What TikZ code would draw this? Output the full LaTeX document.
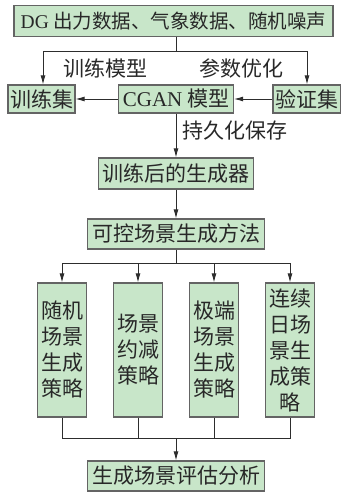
\documentclass[tikz,border=0pt]{standalone}
\usepackage{fontspec}
\setmainfont{Liberation Serif}
\newfontfamily\cjk{Noto Sans CJK SC}
\usetikzlibrary{arrows.meta,calc}
\definecolor{boxfill}{RGB}{200,230,201}
\definecolor{boxline}{RGB}{100,100,100}
\definecolor{connc}{RGB}{45,45,45}
\definecolor{txt}{RGB}{40,40,40}
\begin{document}
\begin{tikzpicture}[x=1pt,y=-1pt,
 box/.style={draw=boxline,fill=boxfill,line width=1.2pt,inner sep=0pt,text=txt,font=\cjk\fontsize{21}{26}\selectfont,align=center},
 conn/.style={draw=connc,line width=0.9pt},
 arr/.style={conn,-{Latex[length=9pt,width=5pt]}},
 lbl/.style={text=txt,font=\cjk\fontsize{21}{24}\selectfont,inner sep=0pt}]
\useasboundingbox (0,0) rectangle (340,492);
\node[box,font=\cjk\fontsize{19.5}{24}\selectfont,minimum width=319pt,minimum height=31pt] (src) at (173.5,21) {{\rmfamily DG} 出力数据、气象数据、随机噪声};
\node[box,minimum width=67pt,minimum height=28pt] (train) at (41.5,99) {训练集};
\node[box,minimum width=115pt,minimum height=28pt] (cgan) at (176,99) {{\rmfamily CGAN} 模型};
\node[box,minimum width=68pt,minimum height=28pt] (valid) at (307,99) {验证集};
\node[box,minimum width=155pt,minimum height=31pt] (gen) at (176,173.5) {训练后的生成器};
\node[box,minimum width=177pt,minimum height=30pt] (method) at (176,234) {可控场景生成方法};
\node[box,minimum width=49pt,minimum height=134pt] (s1) at (62,350) {随机\\场景\\生成\\策略};
\node[box,minimum width=49pt,minimum height=134pt] (s2) at (138,350) {场景\\约减\\策略};
\node[box,minimum width=49pt,minimum height=134pt] (s3) at (214,350) {极端\\场景\\生成\\策略};
\node[box,minimum width=49pt,minimum height=134pt] (s4) at (290,350) {连续\\日场\\景生\\成策\\略};
\node[box,minimum width=177pt,minimum height=30pt] (final) at (176,476) {生成场景评估分析};
\node[lbl] (l1) at (105,68) {训练模型};
\node[lbl] (l2) at (241.5,68) {参数优化};
\node[lbl,anchor=west] (l3) at (182,131) {持久化保存};
\coordinate (j1) at (176,51);
\coordinate (j2) at (176,263);
\coordinate (j3) at (176,438);
\draw[conn] (j1 |- src.south) -- (j1);
\draw[arr] (j1) -| ([xshift=1.5pt]train.north);
\draw[arr] (j1) -| (valid.north);
\draw[arr] (cgan.west) -- (train.east);
\draw[arr] (valid.west) -- (cgan.east);
\draw[arr] (cgan) -- (gen);
\draw[arr] (gen) -- (method);
\draw[conn] (method.south) -- (j2);
\foreach \s in {s1,s2,s3,s4}{
  \draw[arr] (j2) -| (\s.north);
  \draw[conn] (\s.south) |- (j3);
}
\draw[arr] (j3) -- (final.north);
\end{tikzpicture}
\end{document}
